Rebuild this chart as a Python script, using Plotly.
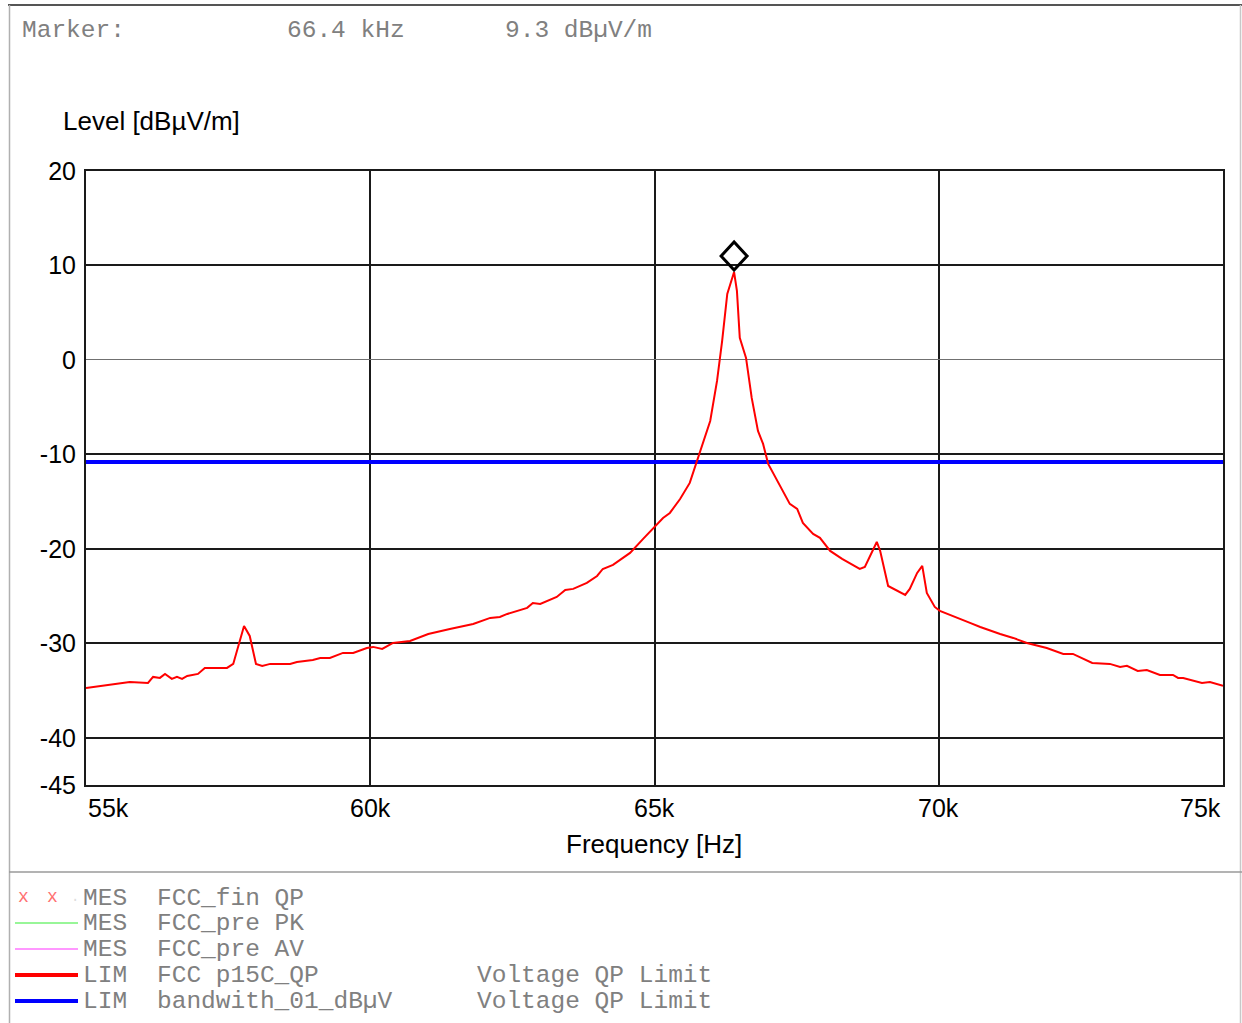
import plotly.graph_objects as go

# ---------------- data ----------------
freq_khz = [55.00, 55.47, 55.77, 56.09, 56.18, 56.30, 56.39, 56.51, 56.60, 56.69,
            56.78, 56.97, 57.09, 57.48, 57.59, 57.78, 57.88, 57.99, 58.10, 58.24,
            58.59, 58.71, 58.99, 59.12, 59.29, 59.52, 59.70, 59.94, 60.05, 60.21,
            60.40, 60.70, 61.02, 61.40, 61.81, 62.11, 62.28, 62.41, 62.76, 62.86,
            62.99, 63.28, 63.43, 63.57, 63.81, 63.99, 64.09, 64.27, 64.57, 64.80,
            65.01, 65.15, 65.27, 65.45, 65.62, 65.73, 65.85, 65.98, 66.10, 66.19,
            66.28, 66.35, 66.40, 66.45, 66.50, 66.61, 66.71, 66.82, 66.91, 67.00,
            67.21, 67.38, 67.51, 67.61, 67.79, 67.91, 68.09, 68.30, 68.61, 68.70,
            68.91, 68.97, 69.11, 69.20, 69.41, 69.49, 69.62, 69.71, 69.79, 69.93,
            70.02, 70.55, 70.73, 71.08, 71.31, 71.55, 71.90, 72.19, 72.36, 72.70,
            73.01, 73.19, 73.31, 73.50, 73.66, 73.89, 74.12, 74.21, 74.30, 74.63,
            74.77, 75.00]
level_dbuv = [-34.72, -34.30, -34.09, -34.19, -33.56, -33.66, -33.24, -33.77, -33.56, -33.77,
              -33.45, -33.24, -32.61, -32.61, -32.18, -28.16, -29.22, -32.18, -32.39, -32.18,
              -32.18, -31.97, -31.76, -31.55, -31.55, -31.02, -31.02, -30.49, -30.38, -30.60,
              -29.96, -29.75, -29.01, -28.48, -27.95, -27.31, -27.21, -26.89, -26.25, -25.73,
              -25.83, -25.09, -24.35, -24.24, -23.61, -22.87, -22.13, -21.70, -20.43, -18.95,
              -17.57, -16.73, -16.20, -14.72, -13.02, -11.01, -8.89, -6.46, -2.22, 2.01,
              6.99, 8.36, 9.30, 7.30, 2.33, 0.21, -4.02, -7.52, -8.89, -11.01,
              -13.34, -15.24, -15.77, -17.26, -18.42, -18.84, -20.22, -21.07, -22.13, -21.91,
              -19.27, -20.22, -23.93, -24.24, -24.88, -24.24, -22.55, -21.81, -24.67, -26.15,
              -26.57, -27.84, -28.27, -29.01, -29.43, -29.96, -30.49, -31.12, -31.12, -32.08,
              -32.18, -32.50, -32.39, -32.92, -32.82, -33.35, -33.35, -33.67, -33.67, -34.19,
              -34.09, -34.51]

limit_freq_khz = [55.0, 75.0]
limit_level = [-10.8, -10.8]

marker_freq_khz = 66.4
marker_level = 9.3

x_tickvals_khz = [55, 60, 65, 70, 75]
x_ticktext = ["55k", "60k", "65k", "70k", "75k"]
y_tickvals = [20, 10, 0, -10, -20, -30, -40, -45]

legend_rows = [
    ("MES", "FCC_fin QP", ""),
    ("MES", "FCC_pre PK", ""),
    ("MES", "FCC_pre AV", ""),
    ("LIM", "FCC p15C_QP", "Voltage QP Limit"),
    ("LIM", "bandwith_01_dBµV", "Voltage QP Limit"),
]

# ---------------- layout helpers (pixel -> paper) ----------------
W, H = 1242, 1023
L, R, T, B = 86, 1223, 171, 785


def px(x):
    return (x - L) / (R - L)


def py(y):
    return (B - y) / (B - T)


SANS = "Liberation Sans, Arial, sans-serif"
MONO = "Liberation Mono, Courier New, monospace"

fig = go.Figure()

fig.add_trace(go.Scatter(
    x=[f * 1000 for f in limit_freq_khz], y=limit_level, mode="lines",
    line=dict(color="#0000ff", width=4), hoverinfo="skip"))

fig.add_trace(go.Scatter(
    x=[f * 1000 for f in freq_khz], y=level_dbuv, mode="lines",
    line=dict(color="#ff0000", width=2), hoverinfo="skip"))

shapes = []
# marker diamond sitting on the peak
shapes.append(dict(type="path", xref="x", yref="y",
                   xsizemode="pixel", ysizemode="pixel",
                   xanchor=marker_freq_khz * 1000, yanchor=marker_level,
                   path="M 0 2 L 13 16 L 0 30 L -13 16 Z",
                   line=dict(color="black", width=3), fillcolor="rgba(0,0,0,0)"))

# outer frame and separator
frame_col = "#9a9a9a"
shapes.append(dict(type="line", xref="paper", yref="paper", x0=px(8), x1=px(1242),
                   y0=py(5), y1=py(5), line=dict(color="#555555", width=2)))
shapes.append(dict(type="line", xref="paper", yref="paper", x0=px(9.5), x1=px(9.5),
                   y0=py(5), y1=py(1023), line=dict(color="#b0b0b0", width=1.5)))
shapes.append(dict(type="line", xref="paper", yref="paper", x0=px(1240.5), x1=px(1240.5),
                   y0=py(5), y1=py(1023), line=dict(color="#c8c8c8", width=1.5)))
shapes.append(dict(type="line", xref="paper", yref="paper", x0=px(9), x1=px(1242),
                   y0=py(872), y1=py(872), line=dict(color=frame_col, width=1.5)))

annotations = []
# header
hdr_font = dict(family=MONO, size=24.5, color="#808080")
for txt, xpos in [("Marker:", 20), ("66.4 kHz", 285), ("9.3 dBµV/m", 503)]:
    annotations.append(dict(text=txt, xref="paper", yref="paper", x=px(xpos), y=py(31),
                            xanchor="left", yanchor="middle", showarrow=False, font=hdr_font))

# axis titles
annotations.append(dict(text="Level [dBµV/m]", xref="paper", yref="paper", x=px(61), y=py(121),
                        xanchor="left", yanchor="middle", showarrow=False,
                        font=dict(family=SANS, size=26, color="black")))
annotations.append(dict(text="Frequency [Hz]", xref="paper", yref="paper", x=px(654), y=py(844),
                        xanchor="center", yanchor="middle", showarrow=False,
                        font=dict(family=SANS, size=26, color="black")))

# x tick labels
for i, (v, t) in enumerate(zip(x_tickvals_khz, x_ticktext)):
    anchor = "left" if i == 0 else ("right" if i == len(x_tickvals_khz) - 1 else "center")
    annotations.append(dict(text=t, xref="x", yref="paper", x=v * 1000, y=py(808),
                            xanchor=anchor, yanchor="middle", showarrow=False,
                            font=dict(family=SANS, size=25, color="black")))

# legend block
leg_font = dict(family=MONO, size=24.5, color="#808080")
row_y = [898, 923, 949, 975, 1001]
for (kind, name, desc), yy in zip(legend_rows, row_y):
    annotations.append(dict(text=kind, xref="paper", yref="paper", x=px(81), y=py(yy),
                            xanchor="left", yanchor="middle", showarrow=False, font=leg_font))
    annotations.append(dict(text=name, xref="paper", yref="paper", x=px(155), y=py(yy),
                            xanchor="left", yanchor="middle", showarrow=False, font=leg_font))
    if desc:
        annotations.append(dict(text=desc, xref="paper", yref="paper", x=px(475), y=py(yy),
                                xanchor="left", yanchor="middle", showarrow=False, font=leg_font))

# legend symbols
for xs in (23, 52):
    annotations.append(dict(text="x", xref="paper", yref="paper", x=px(xs), y=py(897),
                            xanchor="center", yanchor="middle", showarrow=False,
                            font=dict(family=MONO, size=18, color="#ff7070")))
annotations.append(dict(text=".", xref="paper", yref="paper", x=px(75), y=py(897),
                        xanchor="center", yanchor="middle", showarrow=False,
                        font=dict(family=MONO, size=14, color="#dddddd")))
for col, wd, yy in [("#33ee33", 1.2, 923), ("#ff33ff", 1.2, 949),
                    ("#ff0000", 4, 975), ("#0000ff", 4, 1001)]:
    shapes.append(dict(type="line", xref="paper", yref="paper", x0=px(15), x1=px(78),
                       y0=py(yy), y1=py(yy), line=dict(color=col, width=wd)))

fig.update_layout(
    width=W, height=H,
    margin=dict(l=L, r=W - R, t=T, b=H - B, pad=0),
    paper_bgcolor="white", plot_bgcolor="white",
    showlegend=False,
    shapes=shapes, annotations=annotations,
    xaxis=dict(range=[55000, 75000], tickvals=[v * 1000 for v in x_tickvals_khz],
               showticklabels=False, ticks="", showgrid=True, gridcolor="#1a1a1a", gridwidth=2,
               zeroline=False, showline=True, linecolor="#1a1a1a", linewidth=2, mirror=True),
    yaxis=dict(range=[-45, 20], tickvals=y_tickvals, ticktext=[str(v) for v in y_tickvals],
               ticks="", ticklabelstandoff=3,
               tickfont=dict(family=SANS, size=25, color="black"),
               showgrid=True, gridcolor="#1a1a1a", gridwidth=2,
               zeroline=True, zerolinecolor="#707070", zerolinewidth=1,
               showline=True, linecolor="#1a1a1a", linewidth=2, mirror=True),
)

fig.write_html("out.html", config={"displayModeBar": False},
               post_script="document.body.style.margin='0px';document.body.style.overflow='hidden';")
